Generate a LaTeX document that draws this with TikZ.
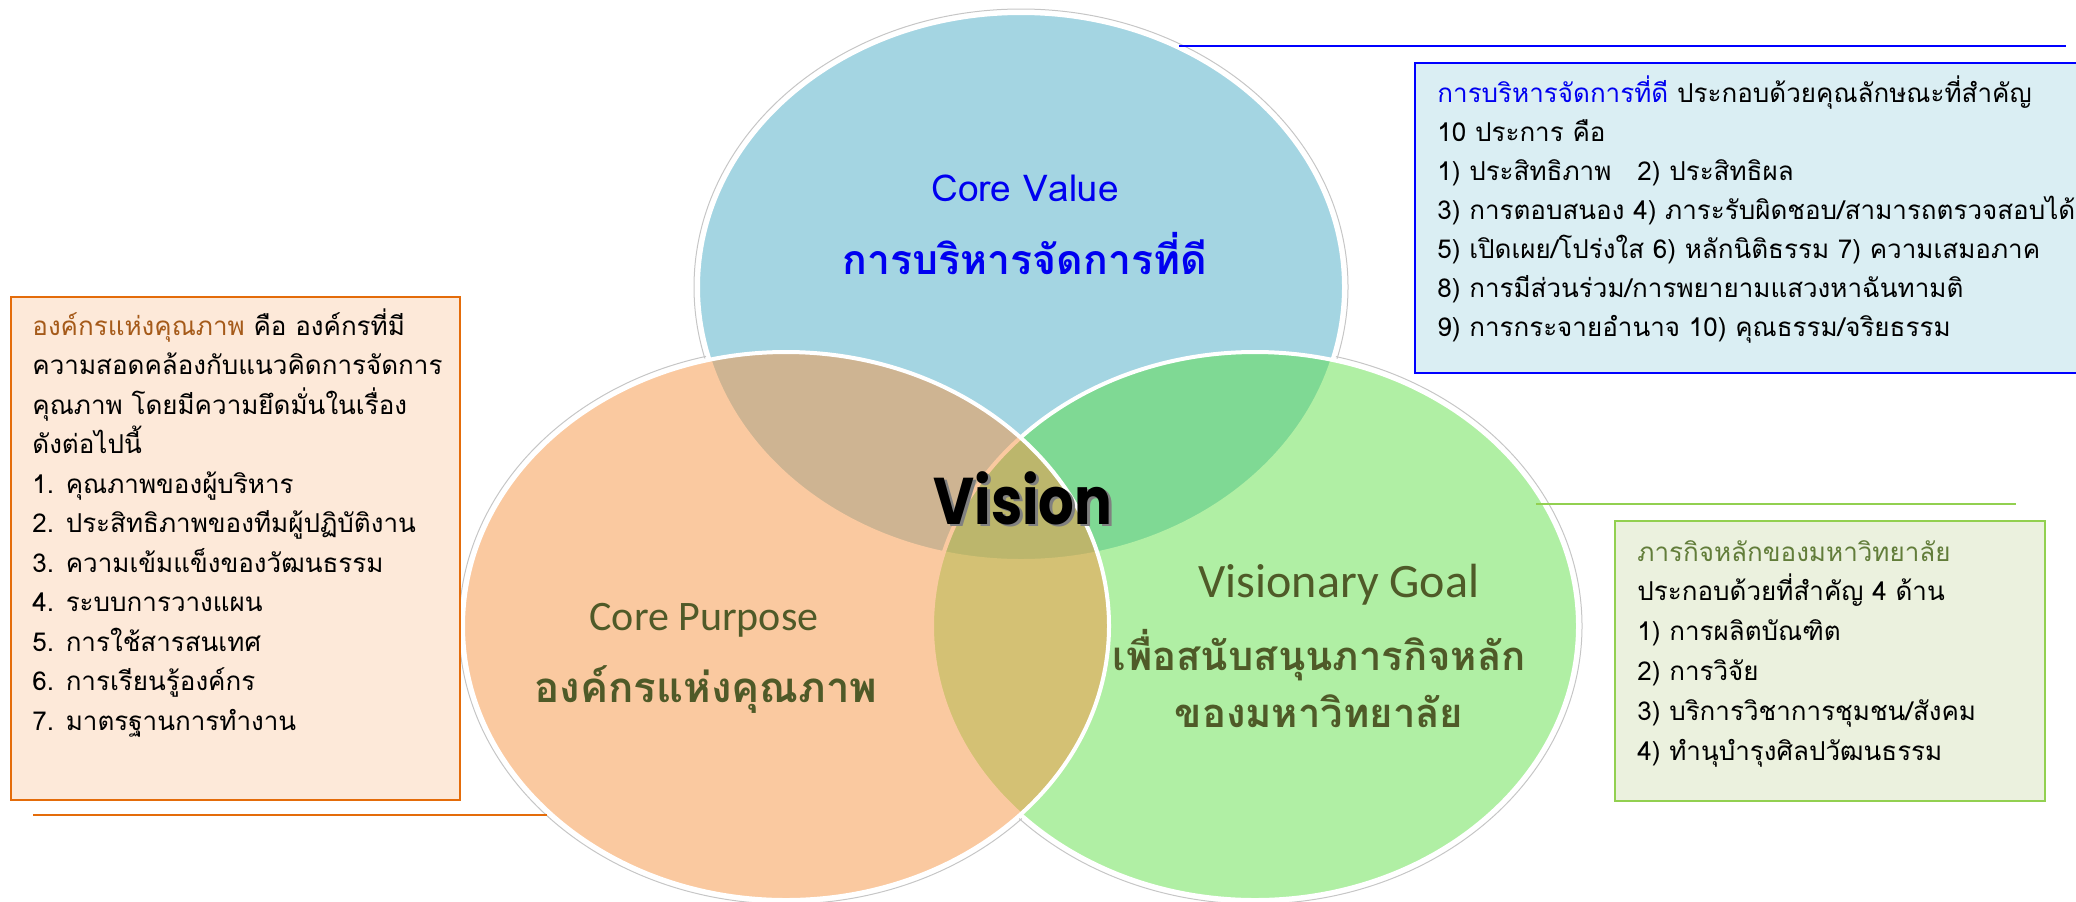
\documentclass[tikz,border=0pt]{standalone}
\usepackage{fontspec}
\usepackage{graphicx}
\setmainfont{Loma}[Script=Thai]
\newfontfamily\thaifont[Script=Thai]{Loma}
\newfontfamily\goalfont{Carlito}
\newfontfamily\visionfont{Poppins}
\usetikzlibrary{calc,positioning}

\definecolor{cvBlue}{HTML}{4BACC6}
\definecolor{cpOrange}{HTML}{F79646}
\definecolor{vgGreen}{RGB}{84,222,58}
\definecolor{titleBlue}{RGB}{0,0,240}
\definecolor{oliveText}{RGB}{79,90,40}
\definecolor{boxBlue}{HTML}{DAEEF3}
\definecolor{boxOrange}{HTML}{FDE9D9}
\definecolor{boxGreen}{HTML}{EBF1DE}
\definecolor{lineBlue}{RGB}{0,0,255}
\definecolor{lineOrange}{HTML}{E46C0A}
\definecolor{lineGreen}{HTML}{92D050}
\definecolor{brownText}{RGB}{165,90,25}
\definecolor{greenTitle}{RGB}{98,125,58}

\begin{document}
\begin{tikzpicture}[x=0.5pt,y=-0.5pt]
	\tikzstyle{venn} = [draw=white, line width=2pt]
	\tikzstyle{halo} = [draw=gray!45, line width=0.5pt]
	\tikzstyle{infobox} = [rectangle, anchor=north west, outer sep=0pt, inner sep=0pt]
	\tikzstyle{boxline} = [anchor=base west, inner sep=0pt, font=\fontsize{13}{15}\selectfont]
	\useasboundingbox (0,0) rectangle (2076,901);
	% circle centres
	\coordinate (CV) at (1021,287);
	\coordinate (CP) at (786,626);
	\coordinate (VG) at (1255,626);
	\foreach \c in {CV,CP,VG}
		\draw[halo] (\c) ellipse [x radius=327, y radius=278];
	\foreach \c in {CV,CP,VG}
		\fill[white] (\c) ellipse [x radius=325, y radius=276];
	\draw[venn, fill=cvBlue, fill opacity=0.5] (CV) ellipse [x radius=323, y radius=274];
	\draw[venn, fill=vgGreen, fill opacity=0.46] (VG) ellipse [x radius=323, y radius=274];
	\draw[venn, fill=cpOrange, fill opacity=0.51] (CP) ellipse [x radius=323, y radius=274];
	% circle texts
	\node[text=titleBlue, font=\fontsize{18.5}{22}\selectfont] (cvname) at (1025,188) {Core Value};
	\node[text=titleBlue, font=\fontsize{20.5}{24}\selectfont\bfseries] (cvtitle) at (1025,254) {การบริหารจัดการที่ดี};
	\node[text=oliveText, font=\goalfont\fontsize{21}{25}\selectfont] (cpname) at (704,620) {Core Purpose};
	\node[text=oliveText, font=\fontsize{21}{24}\selectfont\bfseries] (cptitle) at (706,690) {องค์กรแห่งคุณภาพ};
	\node[text=oliveText, font=\goalfont\fontsize{24}{28}\selectfont] (vgname) at (1339,585) {Visionary Goal};
	\node[text=oliveText, font=\fontsize{20}{24}\selectfont\bfseries] (vgtitleA) at (1319,655) {เพื่อสนับสนุนภารกิจหลัก};
	\node[text=oliveText, font=\fontsize{20}{24}\selectfont\bfseries] (vgtitleB) at (1319,711) {ของมหาวิทยาลัย};
	\node[text=gray, font=\visionfont\fontsize{33}{40}\selectfont\bfseries] (visionshade) at (1026,500) {\scalebox{0.85}[1]{Vision}};
	\node[text=black, font=\visionfont\fontsize{33}{40}\selectfont\bfseries] (vision) at (1023,498) {\scalebox{0.85}[1]{Vision}};
	% guide lines
	\coordinate (cvlineA) at (1179,46);
	\coordinate (cvlineB) at (2066,46);
	\coordinate (vglineA) at (1536,504);
	\coordinate (vglineB) at (2016,504);
	\coordinate (cplineA) at (33,815);
	\coordinate (cplineB) at (547,815);
	\draw[lineBlue, line width=1pt] (cvlineA) -- (cvlineB);
	\draw[lineGreen, line width=1.2pt] (vglineA) -- (vglineB);
	\draw[lineOrange, line width=1.2pt] (cplineA) -- (cplineB);
	% boxes
	\node[infobox, draw=lineBlue, line width=1pt, fill=boxBlue, minimum width=340pt, minimum height=155pt] (cvbox) at (1415,63) {};
	\node[infobox, draw=lineOrange, line width=1.2pt, fill=boxOrange, minimum width=224.5pt, minimum height=251.5pt] (cpbox) at (11,297) {};
	\node[infobox, draw=lineGreen, line width=1.2pt, fill=boxGreen, minimum width=215pt, minimum height=140pt] (vgbox) at (1615,521) {};
	\foreach \txt [count=\i] in {{\textcolor{titleBlue}{การบริหารจัดการที่ดี} ประกอบด้วยคุณลักษณะที่สำคัญ},
		{10 ประการ คือ},
		{1) ประสิทธิภาพ\quad 2) ประสิทธิผล},
		{3) การตอบสนอง 4) ภาระรับผิดชอบ/สามารถตรวจสอบได้},
		{5) เปิดเผย/โปร่งใส 6) หลักนิติธรรม 7) ความเสมอภาค},
		{8) การมีส่วนร่วม/การพยายามแสวงหาฉันทามติ},
		{9) การกระจายอำนาจ 10) คุณธรรม/จริยธรรม}}
		\node[boxline] (cvline\i) at (1437,{102+39*(\i-1)}) {\txt};
	\foreach \txt [count=\i] in {{\textcolor{brownText}{องค์กรแห่งคุณภาพ} คือ องค์กรที่มี},
		{ความสอดคล้องกับแนวคิดการจัดการ},
		{คุณภาพ โดยมีความยึดมั่นในเรื่อง},
		{ดังต่อไปนี้},
		{1. คุณภาพของผู้บริหาร},
		{2. ประสิทธิภาพของทีมผู้ปฏิบัติงาน},
		{3. ความเข้มแข็งของวัฒนธรรม},
		{4. ระบบการวางแผน},
		{5. การใช้สารสนเทศ},
		{6. การเรียนรู้องค์กร},
		{7. มาตรฐานการทำงาน}}
		\node[boxline] (cpline\i) at (32,{335+39.5*(\i-1)}) {\txt};
	\foreach \txt [count=\i] in {{\textcolor{greenTitle}{ภารกิจหลักของมหาวิทยาลัย}},
		{ประกอบด้วยที่สำคัญ 4 ด้าน},
		{1) การผลิตบัณฑิต},
		{2) การวิจัย},
		{3) บริการวิชาการชุมชน/สังคม},
		{4) ทำนุบำรุงศิลปวัฒนธรรม}}
		\node[boxline] (vgline\i) at (1637,{561+39.8*(\i-1)}) {\txt};
\end{tikzpicture}
\end{document}
